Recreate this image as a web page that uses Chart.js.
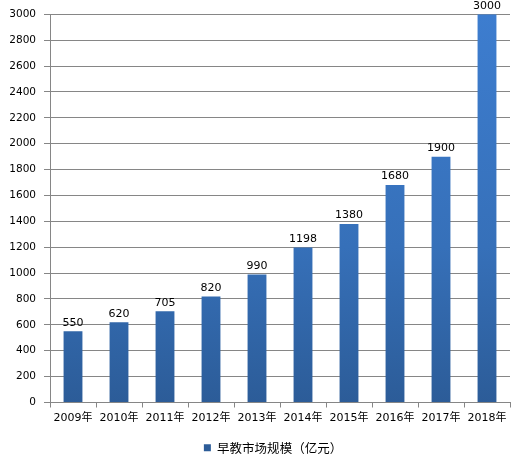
<!DOCTYPE html>
<html>
<head>
<meta charset="utf-8">
<script src="https://cdn.jsdelivr.net/npm/chart.js@4/dist/chart.umd.min.js"></script>
<style>
  html, body { margin: 0; padding: 0; background: #fff; }
  #wrap { width: 524px; height: 464px; }
</style>
</head>
<body>
<div id="wrap"><canvas id="chart"></canvas></div>
<script>
const years = ["2009年", "2010年", "2011年", "2012年", "2013年", "2014年", "2015年", "2016年", "2017年", "2018年"];
const marketSize = [550, 620, 705, 820, 990, 1198, 1380, 1680, 1900, 3000];
const seriesName = "早教市场规模（亿元）";

const fontFamily = "'DejaVu Sans', 'Noto Sans CJK SC', sans-serif";
const cjkFont = "'Noto Sans CJK SC', 'DejaVu Sans', sans-serif";

function barGradient(context) {
  const chart = context.chart;
  const area = chart.chartArea;
  if (!area) return "#3a78c8";
  const g = chart.ctx.createLinearGradient(0, area.top, 0, area.bottom);
  g.addColorStop(0, "#3d7dcf");
  g.addColorStop(0.6, "#3670b9");
  g.addColorStop(1, "#2c5c98");
  return g;
}

// value labels above each bar
const valueLabels = {
  id: "valueLabels",
  afterDatasetsDraw(chart) {
    const ctx = chart.ctx;
    const meta = chart.getDatasetMeta(0);
    ctx.save();
    ctx.font = "11px " + fontFamily;
    ctx.fillStyle = "#000";
    ctx.textAlign = "center";
    ctx.textBaseline = "bottom";
    meta.data.forEach((bar, i) => {
      ctx.fillText(String(marketSize[i]), bar.x, bar.y - 3);
    });
    ctx.restore();
  },
};

// legend sits a little right of centre in the original
const legendShift = {
  id: "legendShift",
  afterLayout(chart) {
    if (chart.legend) {
      chart.legend.left += 18;
      chart.legend.right += 18;
    }
  },
};

new Chart(document.getElementById("chart"), {
  type: "bar",
  data: {
    labels: years,
    datasets: [
      {
        label: seriesName,
        data: marketSize,
        backgroundColor: barGradient,
        borderWidth: 0,
        barPercentage: 0.41,
        categoryPercentage: 1,
      },
    ],
  },
  options: {
    responsive: true,
    maintainAspectRatio: false,
    animation: false,
    layout: { padding: { top: 13, right: 14, left: 0, bottom: 0 } },
    scales: {
      x: {
        grid: {
          drawOnChartArea: false,
          drawTicks: true,
          tickLength: 5,
          color: "#868686",
        },
        border: { color: "#868686" },
        ticks: {
          color: "#000",
          font: { family: fontFamily, size: 11 },
          padding: 4,
          maxRotation: 0,
        },
        afterFit(scale) {
          scale.height = 30;
        },
      },
      y: {
        min: 0,
        max: 3000,
        ticks: {
          stepSize: 200,
          color: "#000",
          font: { family: fontFamily, size: 10.5 },
          padding: 8,
          callback: (v) => String(v),
        },
        grid: { color: "#868686", tickLength: 6 },
        border: { color: "#868686" },
        afterFit(scale) {
          scale.width = 50;
        },
      },
    },
    plugins: {
      legend: {
        position: "bottom",
        labels: {
          boxWidth: 7,
          boxHeight: 7,
          padding: 9,
          color: "#000",
          font: { family: cjkFont, size: 12.5 },
        },
      },
      tooltip: { enabled: false },
    },
  },
  plugins: [valueLabels, legendShift],
});
</script>
</body>
</html>
